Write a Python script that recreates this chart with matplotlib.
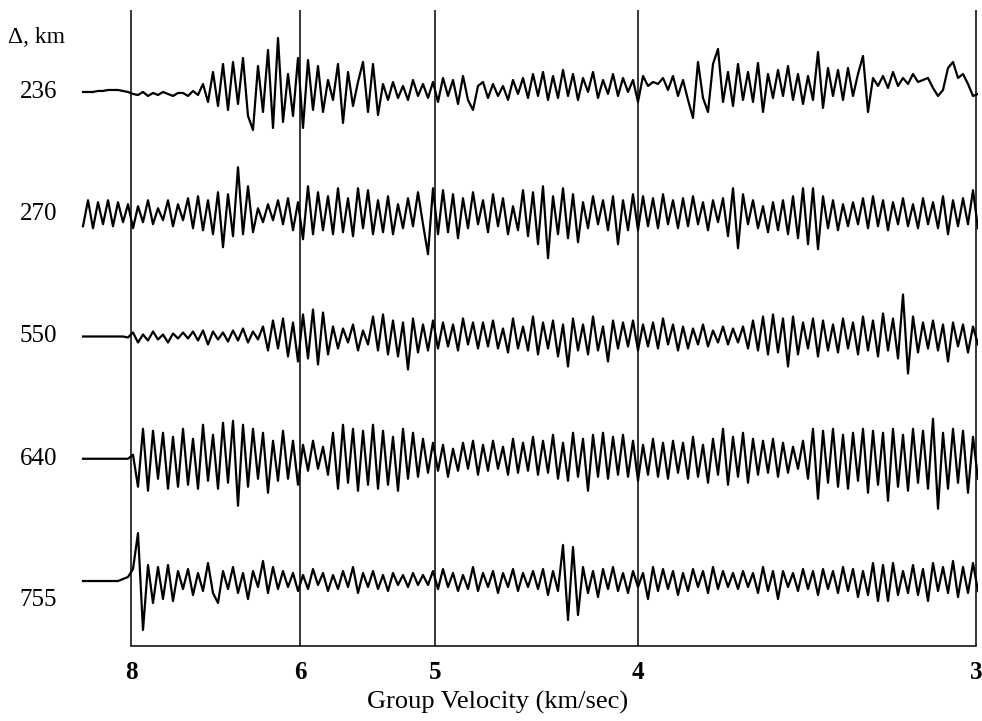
import numpy as np
import matplotlib
matplotlib.use("Agg")
import matplotlib.pyplot as plt

plt.rcParams['font.family'] = ['Liberation Serif', 'DejaVu Serif']

# distancias (km) y velocidades de grupo marcadas en el eje
distances = ['236', '270', '550', '640', '755']
velocity_ticks = [8, 6, 5, 4, 3]

# trazas (amplitud en píxeles, positiva hacia arriba),
# muestras equiespaciadas en lentitud desde antes de 8 km/s hasta 3 km/s
trace_236 = [
    0, 0, 0, 1, 1, 2, 2, 2, 1, 0,
    -2, -3, 0, -4, -1, -3, 0, -2, -4, -1,
    -1, -4, 1, -3, 8, -10, 20, -14, 28, -18,
    30, -12, 34, -24, -38, 26, -20, 42, -36, 54,
    -30, 18, -24, 34, -36, 32, -18, 26, -20, 12,
    -8, 28, -31, 20, -14, 10, 30, -20, 28, -23,
    8, -8, 10, -6, 6, -8, 12, -4, 8, -6,
    10, -10, 14, -4, 12, -12, 16, -8, -18, 6,
    10, -6, 8, -4, 6, -8, 12, -2, 14, -6,
    18, -4, 20, -8, 16, -6, 22, -4, 18, -8,
    14, 0, 20, -6, 12, -2, 18, -4, 14, 0,
    12, -10, 16, 6, 10, 8, 14, 2, 16, -4,
    12, -8, -26, 30, -6, -20, 28, 43, -10, 20,
    -14, 28, -8, 20, -10, 29, -20, 18, -6, 22,
    -4, 26, -8, 18, -12, 16, -8, 40, -16, 24,
    -4, 22, -8, 24, -4, 18, 36, -20, 14, 6,
    16, 4, 20, 6, 14, 8, 18, 10, 12, 14,
    4, -4, 2, 24, 30, 14, 18, 8, -4, -2,
]
trace_270 = [
    -12, 14, -14, 12, -10, 14, -12, 12, -8, 10,
    -14, 8, -8, 14, -10, 6, -6, 14, -12, 10,
    -6, 16, -14, 18, -16, 14, -20, 22, -33, 20,
    -22, 47, -20, 28, -18, 6, -8, 10, -6, 14,
    -10, 16, -16, 12, -25, 28, -20, 22, -16, 18,
    -20, 26, -18, 16, -22, 26, -14, 24, -20, 14,
    -18, 18, -20, 10, -14, 16, -12, 22, -10, -40,
    26, -20, 24, -18, 20, -24, 16, -14, 22, -10,
    14, -18, 20, -12, 16, -20, 8, -16, 24, -22,
    22, -30, 28, -44, 18, -20, 26, -24, 20, -28,
    12, -14, 18, -10, 14, -16, 18, -30, 14, -16,
    20, -16, 18, -12, 16, -14, 20, -10, 14, -14,
    16, -12, 18, -10, 12, -16, 14, -8, 16, -22,
    26, -34, 20, -10, 14, -14, 8, -18, 12, -16,
    14, -20, 18, -24, 26, -30, 26, -35, 18, -14,
    14, -16, 10, -12, 12, -10, 16, -14, 18, -12,
    14, -16, 12, -10, 16, -12, 10, -14, 16, -10,
    12, -14, 18, -20, 14, -12, 16, -10, 24, -14,
]
trace_550 = [
    0, 0, 0, 0, 0, 0, 0, 0, 0, -1,
    4, -6, 2, -4, 5, -3, 2, -6, 3, -2,
    4, -2, 5, -4, 6, -8, 5, -3, 4, -5,
    6, -4, 8, -6, 5, -3, 10, -14, 16, -12,
    18, -20, 14, -25, 22, -22, 27, -28, 24, -18,
    10, -12, 8, -6, 12, -14, 6, -8, 20, -14,
    22, -18, 16, -20, 14, -33, 18, -16, 12, -14,
    16, -12, 14, -10, 12, -14, 18, -8, 14, -12,
    14, -10, 16, -12, 8, -16, 18, -12, 10, -14,
    20, -18, 14, -12, 16, -20, 12, -30, 18, -14,
    12, -18, 20, -14, 10, -25, 16, -12, 14, -10,
    16, -14, 12, -10, 14, -12, 18, -8, 12, -14,
    10, -12, 8, -8, 12, -10, 6, -6, 10, -8,
    8, -6, 10, -12, 16, -14, 20, -18, 22, -16,
    18, -30, 20, -18, 14, -12, 18, -20, 16, -14,
    12, -16, 18, -12, 14, -18, 20, -14, 16, -20,
    23, -14, 18, -22, 42, -37, 20, -16, 14, -12,
    16, -14, 12, -25, 14, -10, 12, -16, 10, -8,
]
trace_640 = [
    0, 0, 0, 0, 0, 0, 0, 0, 0, 0,
    4, -28, 30, -32, 28, -20, 26, -30, 22, -28,
    30, -26, 20, -30, 34, -22, 24, -30, 36, -24,
    38, -47, 34, -28, 30, -20, 26, -34, 18, -22,
    28, -20, 18, -26, 14, -12, 18, -10, 12, -16,
    26, -30, 34, -24, 30, -32, 28, -26, 34, -30,
    28, -26, 22, -32, 30, -20, 26, -18, 20, -14,
    16, -12, 14, -18, 10, -12, 16, -10, 18, -16,
    14, -12, 18, -10, 12, -16, 20, -14, 16, -12,
    22, -16, 18, -14, 24, -20, 16, -22, 26, -18,
    20, -32, 24, -18, 26, -20, 22, -16, 24, -18,
    18, -22, 14, -16, 20, -18, 16, -20, 18, -14,
    16, -20, 22, -18, 14, -24, 20, -16, 30, -26,
    22, -18, 26, -24, 20, -16, 18, -14, 20, -18,
    16, -14, 12, -10, 18, -20, 30, -40, 28, -24,
    30, -28, 24, -30, 26, -22, 30, -34, 28, -26,
    26, -42, 30, -28, 24, -32, 30, -24, 28, -30,
    40, -50, 26, -30, 30, -24, 28, -34, 22, -20,
]
trace_755 = [
    0, 0, 0, 0, 0, 0, 0, 0, 2, 4,
    12, 48, -49, 16, -22, 14, -18, 16, -20, 10,
    -8, 12, -14, 8, -10, 18, -12, -22, 10, -8,
    14, -12, 8, -18, 10, -6, 20, -12, 14, -8,
    10, -6, 8, -10, 6, -8, 12, -4, 8, -10,
    6, -8, 10, -6, 14, -12, 8, -6, 10, -8,
    6, -10, 8, -4, 6, -6, 8, -4, 6, -4,
    10, -8, 12, -6, 8, -10, 6, -8, 14, -10,
    8, -6, 10, -12, 8, -6, 12, -10, 8, -6,
    10, -8, 12, -14, 10, -10, 36, -39, 34, -34,
    14, -12, 10, -16, 12, -8, 14, -10, 8, -12,
    10, -6, 8, -18, 14, -10, 12, -8, 10, -14,
    8, -10, 12, -6, 10, -12, 14, -8, 10, -6,
    8, -8, 10, -6, 8, -12, 14, -10, 10, -18,
    10, -6, 8, -10, 12, -8, 10, -14, 12, -8,
    10, -12, 14, -10, 12, -16, 10, -14, 18, -20,
    16, -20, 18, -14, 10, -12, 16, -14, 12, -20,
    18, -10, 14, -12, 20, -16, 14, -12, 18, -10,
]
traces = [trace_236, trace_270, trace_550, trace_640, trace_755]

# escala: píxeles por unidad de lentitud (s/km) y separación entre trazas
PX = 4056.0
SPACING = 122.3
s_start = 1 / 8 - 48 / PX
s_end = 1 / 3 + 2 / PX

fig = plt.figure(figsize=(9.82, 7.21), dpi=100)
ax = fig.add_axes([76 / 982, 1 - 646 / 721, (978 - 76) / 982, (646 - 10) / 721])
ax.set_xlim(1 / 8 - 55 / PX, 1 / 3 + 2 / PX)
ax.set_ylim(-(646 - 581) / SPACING, 4 + (92 - 10) / SPACING)

for i, tr in enumerate(traces):
    base = len(traces) - 1 - i
    s = np.linspace(s_start, s_end, len(tr))
    y = base + np.array(tr) / SPACING
    ax.plot(s, y, color='black', lw=1.6)
    label_y = base if distances[i] != '755' else base - 19 / SPACING
    ax.text(1 / 8 - 74 / PX, label_y, distances[i], ha='right', va='center',
            fontsize=18)

ax.text(1 / 8 - 123 / PX, 4 + 54 / SPACING, 'Δ, km', ha='left', va='center',
        fontsize=17)

# líneas verticales en cada velocidad
slowness = [1 / v for v in velocity_ticks]
for sl in slowness:
    ax.axvline(sl, color='black', lw=1.1)

for sp in ['top', 'right', 'left']:
    ax.spines[sp].set_visible(False)
ax.spines['bottom'].set_bounds(1 / 8, 1 / 3)
ax.spines['bottom'].set_linewidth(1.1)
ax.set_yticks([])
ax.set_xticks(slowness)
ax.set_xticklabels([str(v) for v in velocity_ticks], fontsize=18, fontweight='bold')
ax.tick_params(axis='x', length=0, pad=11)
ax.set_xlabel('Group Velocity (km/sec)', fontsize=19, labelpad=4)
ax.xaxis.set_label_coords((498 - 76) / (978 - 76), -0.07)

plt.savefig('out.png', dpi=100)
